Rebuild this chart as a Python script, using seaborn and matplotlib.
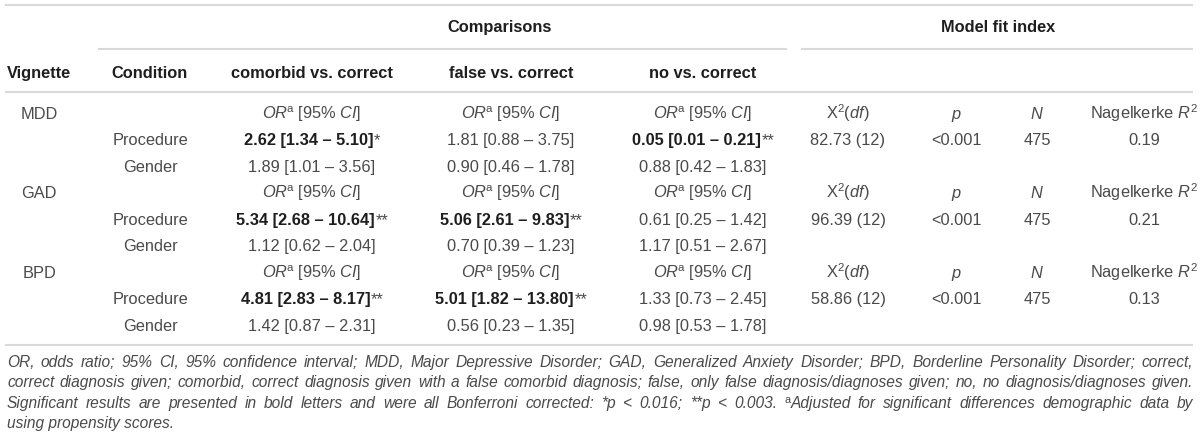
import matplotlib
matplotlib.use("Agg")
import matplotlib.pyplot as plt
import seaborn as sns

# table content
vignettes = ["MDD", "GAD", "BPD"]
conditions = ["Procedure", "Gender"]
comparisons = ["comorbid vs. correct", "false vs. correct", "no vs. correct"]
comorbid_or = ["2.62 [1.34 – 5.10]*", "1.89 [1.01 – 3.56]",
               "5.34 [2.68 – 10.64]**", "1.12 [0.62 – 2.04]",
               "4.81 [2.83 – 8.17]**", "1.42 [0.87 – 2.31]"]
false_or = ["1.81 [0.88 – 3.75]", "0.90 [0.46 – 1.78]",
            "5.06 [2.61 – 9.83]**", "0.70 [0.39 – 1.23]",
            "5.01 [1.82 – 13.80]**", "0.56 [0.23 – 1.35]"]
no_or = ["0.05 [0.01 – 0.21]**", "0.88 [0.42 – 1.83]",
         "0.61 [0.25 – 1.42]", "1.17 [0.51 – 2.67]",
         "1.33 [0.73 – 2.45]", "0.98 [0.53 – 1.78]"]
chi2_df = ["82.73 (12)", "96.39 (12)", "58.86 (12)"]
p_values = ["<0.001", "<0.001", "<0.001"]
n_values = ["475", "475", "475"]
nagelkerke_r2 = ["0.19", "0.21", "0.13"]
fit_headers = [r"X$^{2}$($\mathit{df}$)", r"$\mathit{p}$", r"$\mathit{N}$",
               r"Nagelkerke $\mathit{R}^{2}$"]
or_header = r"$\mathit{OR}^{\!\mathrm{a}}$ [95% $\mathit{CI}$]"
# "^a" marks a superscript a in the footnote
footnote = [
    "OR, odds ratio; 95% CI, 95% confidence interval; MDD, Major Depressive Disorder; "
    "GAD, Generalized Anxiety Disorder; BPD, Borderline Personality Disorder; correct,",
    "correct diagnosis given; comorbid, correct diagnosis given with a false comorbid "
    "diagnosis; false, only false diagnosis/diagnoses given; no, no diagnosis/diagnoses given.",
    "Significant results are presented in bold letters and were all Bonferroni corrected: "
    "*p < 0.016; **p < 0.003. ^aAdjusted for significant differences demographic data by",
    "using propensity scores.",
]

sns.set_theme(style="white")
plt.rcParams['font.family'] = ['Liberation Sans', 'DejaVu Sans']
plt.rcParams['mathtext.fontset'] = 'custom'
plt.rcParams['mathtext.rm'] = 'Liberation Sans'
plt.rcParams['mathtext.it'] = 'Liberation Sans:italic'
plt.rcParams['mathtext.bf'] = 'Liberation Sans:bold'

fig = plt.figure(figsize=(12, 4.4), dpi=100)
ax = fig.add_axes([0, 0, 1, 1])
ax.set_xlim(0, 1200)
ax.set_ylim(440, 0)
ax.axis('off')
renderer = fig.canvas.get_renderer()

FS = 11.8
FN = 11.2
REG = '#4a4a4a'
DARK = '#1e1e1e'
LINE = '#d9d9d9'


def base(yc, fs=FS):
    return round(yc + 0.36 * fs * 100 / 72)


def txt(x, yc, s, bold=False, ha='center', fs=FS, style='normal'):
    return ax.text(x, base(yc, fs), s, ha=ha, va='baseline', fontsize=fs,
                   fontweight='bold' if bold else 'normal', fontstyle=style,
                   color=DARK if bold else REG)


def wid(t):
    return t.get_window_extent(renderer).width


def value(x, yc, s):
    if not s.endswith('*'):
        txt(x, yc, s)
        return
    stars = s[len(s.rstrip('*')):]
    t1 = txt(0, yc, s.rstrip('*'), bold=True, ha='left')
    t2 = txt(0, yc, stars, ha='left')
    w1, w2 = wid(t1), wid(t2)
    left = x - (w1 + w2) / 2
    t1.set_x(left)
    t2.set_x(left + w1 + 0.5)


def hline(y, x0=5, x1=1193):
    ax.plot([x0, x1], [y, y], color=LINE, lw=1.5, solid_capstyle='butt')


# layout
col_vig, col_cond = 39, 150
col_cmp = [312, 511, 703]
col_fit = [848, 956, 1037, 1144]
y_group, y_head, y_first, step = 26, 72, 113, 26.5

hline(5)
hline(49, 98, 787)
hline(49, 801, 1193)
hline(92)
hline(345)

txt(500, y_group, "Comparisons", bold=True)
txt(998, y_group, "Model fit index", bold=True)
txt(col_vig, y_head, "Vignette", bold=True)
txt(col_cond, y_head, "Condition", bold=True)
for x, c in zip(col_cmp, comparisons):
    txt(x, y_head, c, bold=True)

for i, v in enumerate(vignettes):
    y0 = y_first + i * 3 * step
    txt(col_vig, y0, v)
    for x in col_cmp:
        txt(x, y0, or_header)
    for x, h in zip(col_fit, fit_headers):
        txt(x, y0, h)
    for j, cond in enumerate(conditions):
        y = y0 + (j + 1) * step
        txt(col_cond, y, cond)
        k = i * 2 + j
        for x, col in zip(col_cmp, [comorbid_or, false_or, no_or]):
            value(x, y, col[k])
    yp = y0 + step
    for x, col in zip(col_fit, [chi2_df, p_values, n_values, nagelkerke_r2]):
        txt(x, yp, col[i])


# justified footnote, word by word
def foot_word(y, w):
    pieces = []
    if w.startswith('^a'):
        pieces.append(ax.text(0, y - 5, 'a', ha='left', va='baseline',
                              fontsize=FN * 0.7, color=REG))
        w = w[2:]
    pieces.append(ax.text(0, y, w, ha='left', va='baseline', fontsize=FN,
                          fontstyle='italic', color=REG))
    return pieces


x_left, x_right = 7, 1193
foot_base = [367, 387, 408, 428]
for li, line in enumerate(footnote):
    y = foot_base[li]
    if li == len(footnote) - 1:
        ax.text(x_left, y, line, ha='left', va='baseline', fontsize=FN,
                fontstyle='italic', color=REG)
        continue
    words = [foot_word(y, w) for w in line.split(' ')]
    widths = [sum(wid(p) for p in ps) for ps in words]
    gap = (x_right - x_left - sum(widths)) / (len(words) - 1)
    x = x_left
    for ps, w in zip(words, widths):
        xx = x
        for p in ps:
            p.set_x(xx)
            xx += wid(p)
        x += w + gap

fig.savefig("out.png", dpi=100)
